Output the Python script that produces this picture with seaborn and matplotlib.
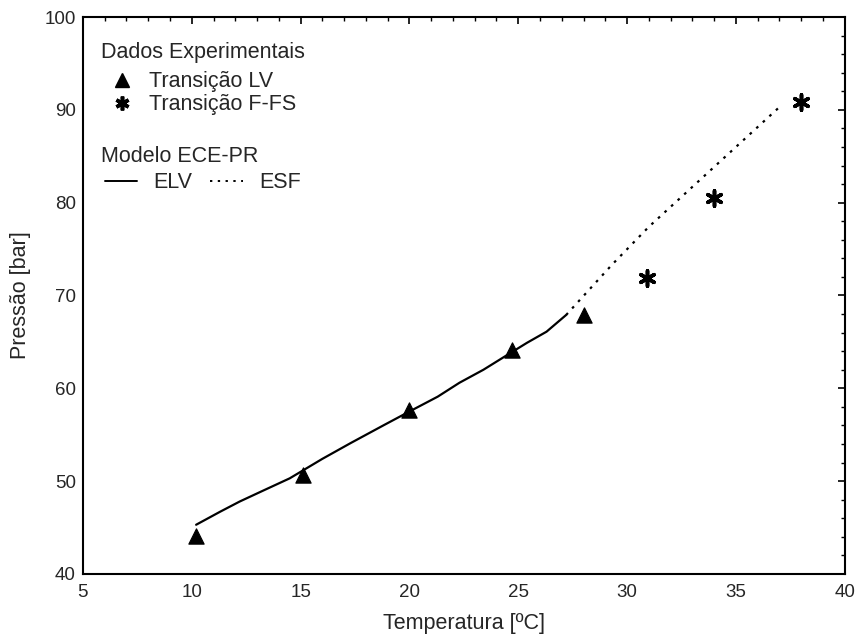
import matplotlib
matplotlib.use("Agg")
import matplotlib.pyplot as plt
import seaborn as sns
import numpy as np
import pandas as pd
from matplotlib.lines import Line2D
from matplotlib.ticker import MultipleLocator

sns.set_style("white")
plt.rcParams['font.family'] = ['Liberation Sans', 'DejaVu Sans']

# Experimental data
lv_T = [10.2, 15.1, 20.0, 24.7, 28.0]
lv_P = [44.1, 50.7, 57.7, 64.1, 67.9]
ffs_T = [30.9, 34.0, 38.0]
ffs_P = [71.9, 80.5, 90.8]

# Model ECE-PR
elv_T = [10.2, 11.3, 12.2, 13.3, 14.5, 16.0, 17.3, 18.8, 20.0, 21.3, 22.3, 23.4, 24.5, 25.4, 26.3, 27.2]
elv_P = [45.3, 46.7, 47.8, 49.0, 50.3, 52.4, 54.1, 56.0, 57.5, 59.1, 60.6, 62.0, 63.6, 64.9, 66.1, 67.9]
esf_T = [27.2, 29.3, 31.0, 33.0, 35.0, 37.0]
esf_P = [67.9, 73.3, 77.4, 81.7, 86.0, 90.3]

fig = plt.figure(figsize=(8.55, 6.42), dpi=100)
ax = fig.add_axes([0.097, 0.106, 0.891, 0.8675])

dots = (0, (1.2, 2.8))
sns.lineplot(x=elv_T, y=elv_P, ax=ax, color='black', lw=1.6, sort=False)
sns.lineplot(x=esf_T, y=esf_P, ax=ax, color='black', lw=1.6, sort=False,
             linestyle=dots)
sns.scatterplot(x=lv_T, y=lv_P, ax=ax, marker='^', color='black', s=120,
                edgecolor='black', zorder=5)
star = (6, 2, 0)
sns.scatterplot(x=ffs_T, y=ffs_P, ax=ax, marker=star, color='black', s=120,
                linewidth=2.6, edgecolor='black', zorder=5)

ax.set_xlim(5, 40)
ax.set_ylim(40, 100)
ax.xaxis.set_major_locator(MultipleLocator(5))
ax.xaxis.set_minor_locator(MultipleLocator(1))
ax.yaxis.set_major_locator(MultipleLocator(10))
ax.yaxis.set_minor_locator(MultipleLocator(2))
ax.tick_params(which='both', direction='in', top=True, right=True, color='black',
               labelsize=13.5)
ax.tick_params(which='major', length=5, width=1.2)
ax.tick_params(which='minor', length=3, width=1.0)
ax.tick_params(axis='x', pad=7)
ax.tick_params(axis='y', pad=5)
for sp in ax.spines.values():
    sp.set_color('black')
    sp.set_linewidth(1.5)

ax.set_xlabel('Temperatura [ºC]', fontsize=15.5, labelpad=9)
ax.set_ylabel('Pressão [bar]', fontsize=15.5, labelpad=10)

fs = 15.5
ax.text(0.0236, 0.9371, 'Dados Experimentais', transform=ax.transAxes,
        fontsize=fs, ha='left', va='center')
ax.text(0.0236, 0.7504, 'Modelo ECE-PR', transform=ax.transAxes,
        fontsize=fs, ha='left', va='center')

h1 = [Line2D([], [], marker='^', color='black', ls='none', markersize=10),
      Line2D([], [], marker=star, color='black', ls='none', markersize=10, mew=2.6)]
leg1 = ax.legend(h1, ['Transição LV', 'Transição F-FS'],
                 loc='center left', bbox_to_anchor=(0.0236, 0.8630), frameon=False,
                 fontsize=fs, handlelength=1.95, handletextpad=0.28,
                 labelspacing=0.1, borderaxespad=0, borderpad=0)
ax.add_artist(leg1)
h2 = [Line2D([], [], color='black', lw=1.4),
      Line2D([], [], color='black', lw=1.4, ls=dots)]
leg2 = ax.legend(h2, ['ELV', 'ESF'],
                 loc='center left', bbox_to_anchor=(0.0289, 0.7020), frameon=False,
                 fontsize=fs, ncol=2, handlelength=1.5, handletextpad=0.75,
                 columnspacing=0.84, borderaxespad=0, borderpad=0)

fig.savefig('out.png', dpi=100)
